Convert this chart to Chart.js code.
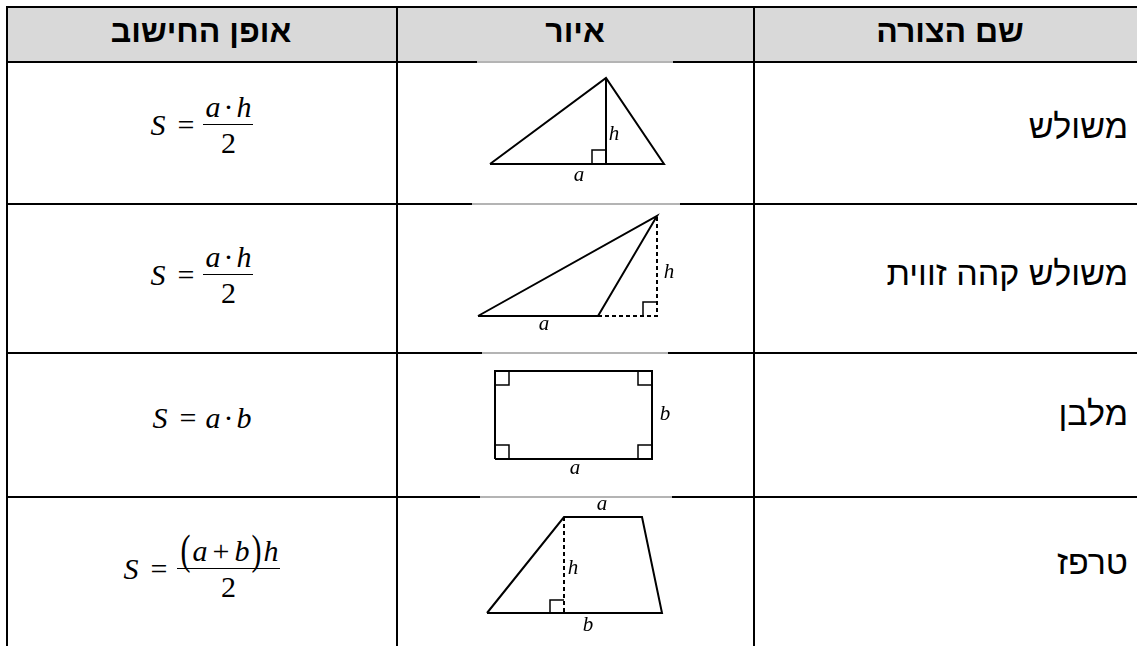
<!DOCTYPE html>
<html><head><meta charset="utf-8">
<script src="https://cdn.jsdelivr.net/npm/chart.js@4.4.1/dist/chart.umd.min.js"></script>
<style>
html,body{margin:0;padding:0;background:#fff;width:1137px;height:646px;overflow:hidden;position:relative}
.hl{position:absolute;height:2px;background:#000}
.vl{position:absolute;width:2px;background:#000}
.grey{position:absolute;height:2px;background:#b4b4b4}
.hdr{position:absolute;top:13px;height:40px;line-height:40px;font:bold 32px 'Liberation Sans',Arial,sans-serif;text-align:center;direction:rtl;white-space:nowrap}
.name{position:absolute;left:740px;width:388px;height:44px;line-height:44px;font:34px 'Liberation Sans',Arial,sans-serif;text-align:right;direction:rtl;white-space:nowrap}
.f{position:absolute;left:8px;width:388px;height:100px;display:flex;justify-content:center;align-items:center;font-family:'Liberation Serif','Times New Roman',serif;font-size:30px;direction:ltr;white-space:nowrap}
.f .v{font-style:italic}
.f .eq{margin:0 9px 0 12px}
.f .o{margin:0 3px}
.f .pl{margin:0 5px}
.f .p{display:inline-block;transform:scale(1,1.4);transform-origin:50% 60%;margin:0 2px}
.frac{display:inline-flex;flex-direction:column;align-items:stretch;text-align:center}
.num{padding:0 2px;line-height:34px}
.den{border-top:1px solid #000;line-height:36px}
.cell{position:absolute;left:398px;width:355px}
</style></head>
<body>
<script>
// ---------- table text ----------
const headers = ['אופן החישוב', 'איור', 'שם הצורה'];
const shapeNames = ['משולש', 'משולש קהה זווית', 'מלבן', 'טרפז'];
const formulaLhs = 'S';
const formulaNumerators = [
  [['a','v'],['·','o'],['h','v']],
  [['a','v'],['·','o'],['h','v']],
  null,
  [['(','p'],['a','v'],['+','pl'],['b','v'],[')','p'],['h','v']]
];
const formulaInline = [null, null, [['a','v'],['·','o'],['b','v']], null];
const formulaDenominators = ['2', '2', null, '2'];

// ---------- figure data (figure units, y up) ----------
const triangleOutline = [{x:0,y:0},{x:17.4,y:0},{x:11.6,y:8.6},{x:0,y:0}];
const triangleHeight = [{x:11.6,y:8.6},{x:11.6,y:0}];
const triangleRightAngle = [{x:10.2,y:0},{x:10.2,y:1.4},{x:11.6,y:1.4}];
const triangleLabels = [{x:12.4,y:2.4,t:'h'},{x:8.9,y:-1.7,t:'a'}];

const obtuseOutline = [{x:0,y:0},{x:12,y:0},{x:17.9,y:10},{x:0,y:0}];
const obtuseExtension = [{x:12,y:0},{x:17.9,y:0},{x:17.9,y:10}];
const obtuseRightAngle = [{x:16.5,y:0},{x:16.5,y:1.4},{x:17.9,y:1.4}];
const obtuseLabels = [{x:19.1,y:3.8,t:'h'},{x:6.6,y:-1.4,t:'a'}];

const rectOutline = [{x:0,y:0},{x:15.7,y:0},{x:15.7,y:8.8},{x:0,y:8.8},{x:0,y:0}];
const rectAngleBL = [{x:0,y:1.4},{x:1.4,y:1.4},{x:1.4,y:0}];
const rectAngleBR = [{x:14.3,y:0},{x:14.3,y:1.4},{x:15.7,y:1.4}];
const rectAngleTR = [{x:15.7,y:7.4},{x:14.3,y:7.4},{x:14.3,y:8.8}];
const rectAngleTL = [{x:1.4,y:8.8},{x:1.4,y:7.4},{x:0,y:7.4}];
const rectLabels = [{x:17.0,y:3.9,t:'b'},{x:8.0,y:-1.5,t:'a'}];

const trapOutline = [{x:0,y:0},{x:17.5,y:0},{x:15.5,y:9.6},{x:7.7,y:9.6},{x:0,y:0}];
const trapHeight = [{x:7.7,y:9.6},{x:7.7,y:0}];
const trapRightAngle = [{x:6.3,y:0},{x:6.3,y:1.3},{x:7.7,y:1.3}];
const trapLabels = [{x:11.5,y:10.3,t:'a'},{x:8.6,y:3.9,t:'h'},{x:10.1,y:-1.8,t:'b'}];

// ---------- layout ----------
const rowEdges = [62, 204, 353, 497, 646];
const body = document.body;
function el(cls, style, text){const d=document.createElement('div');d.className=cls;Object.assign(d.style,style);if(text!=null)d.textContent=text;body.appendChild(d);return d;}

// header background
el('', {position:'absolute',left:'6px',top:'7px',width:'1131px',height:'55px',background:'#d9d9d9'});
// horizontal lines
el('hl',{left:'6px',top:'6px',width:'1131px'});
[61,203,352,496].forEach(y=>el('hl',{left:'6px',top:y+'px',width:'1131px'}));
// grey parts on middle column borders
[[477,673,61],[472,680,203],[482,668,352],[480,672,496]].forEach(g=>el('grey',{left:g[0]+'px',width:(g[1]-g[0])+'px',top:g[2]+'px'}));
// vertical lines
[6,396,753].forEach(x=>el('vl',{left:x+'px',top:'6px',height:'640px'}));

// headers
const hdrCenters = [201, 575, 950];
headers.forEach((h,i)=>el('hdr',{left:(hdrCenters[i]-180)+'px',width:'360px'},h));
// names
const nameCenters = [129, 276, 416, 565];
shapeNames.forEach((n,i)=>el('name',{top:(nameCenters[i]-22)+'px'},n));

// formulas
const formulaCenters = [125, 275, 418, 569];
function tokens(parent, list){list.forEach(t=>{const s=document.createElement('span');s.className=t[1];s.textContent=t[0];parent.appendChild(s);});}
formulaCenters.forEach((c,i)=>{
  const f = el('f',{top:(c-50)+'px'});
  const s=document.createElement('span');s.className='v';s.textContent=formulaLhs;f.appendChild(s);
  const e=document.createElement('span');e.className='eq';e.textContent='=';f.appendChild(e);
  if(formulaInline[i]){tokens(f, formulaInline[i]);}
  else{
    const fr=document.createElement('span');fr.className='frac';
    const nm=document.createElement('span');nm.className='num';tokens(nm, formulaNumerators[i]);
    const dn=document.createElement('span');dn.className='den';dn.textContent=formulaDenominators[i];
    fr.appendChild(nm);fr.appendChild(dn);f.appendChild(fr);
  }
});

// ---------- figures with Chart.js ----------
const labelPlugin = {
  id:'figLabels',
  afterDatasetsDraw(chart, args, opts){
    const ctx=chart.ctx, xs=chart.scales.x, ys=chart.scales.y;
    ctx.save();
    ctx.fillStyle='#000';
    ctx.font='italic 21px "Liberation Serif",serif';
    ctx.textAlign='center';ctx.textBaseline='alphabetic';
    (opts.items||[]).forEach(l=>ctx.fillText(l.t, xs.getPixelForValue(l.x), ys.getPixelForValue(l.y)));
    ctx.restore();
  }
};

function ds(data, opt){
  return Object.assign({data, showLine:true, pointRadius:0, borderColor:'#000', borderWidth:2, fill:false, tension:0, borderJoinStyle:'miter', borderCapStyle:'butt', clip:false}, opt||{});
}
const thin = {borderWidth:1.5};
const dashed = {borderDash:[4,3]};

const figures = [
  {origin:[490,164], sets:[ds(triangleOutline), ds(triangleHeight), ds(triangleRightAngle,thin)], labels:triangleLabels},
  {origin:[478,316], sets:[ds(obtuseOutline), ds(obtuseExtension,dashed), ds(obtuseRightAngle,thin)], labels:obtuseLabels},
  {origin:[495,459], sets:[ds(rectOutline), ds(rectAngleBL,thin), ds(rectAngleBR,thin), ds(rectAngleTR,thin), ds(rectAngleTL,thin)], labels:rectLabels},
  {origin:[487,613], sets:[ds(trapOutline), ds(trapHeight,dashed), ds(trapRightAngle,thin)], labels:trapLabels}
];
const unitPx = 10;
const cellLeft = 398, cellRight = 753;
figures.forEach((fig,i)=>{
  const top = rowEdges[i]+2, bottom = rowEdges[i+1] - (i<3?1:0);
  const h = bottom-top, w = cellRight-cellLeft;
  const wrap = el('cell',{top:top+'px',height:h+'px'});
  const cv = document.createElement('canvas'); cv.width=w; cv.height=h; cv.style.width=w+'px'; cv.style.height=h+'px';
  wrap.appendChild(cv);
  const [ox,oy]=fig.origin;
  new Chart(cv,{
    type:'scatter',
    data:{datasets:fig.sets},
    options:{
      responsive:false, animation:false, devicePixelRatio:1,
      layout:{padding:0},
      plugins:{legend:{display:false}, tooltip:{enabled:false}, figLabels:{items:fig.labels}},
      scales:{
        x:{type:'linear', display:false, min:(cellLeft-ox)/unitPx, max:(cellRight-ox)/unitPx},
        y:{type:'linear', display:false, min:(oy-bottom)/unitPx, max:(oy-top)/unitPx}
      }
    },
    plugins:[labelPlugin]
  });
});
</script>
</body></html>
